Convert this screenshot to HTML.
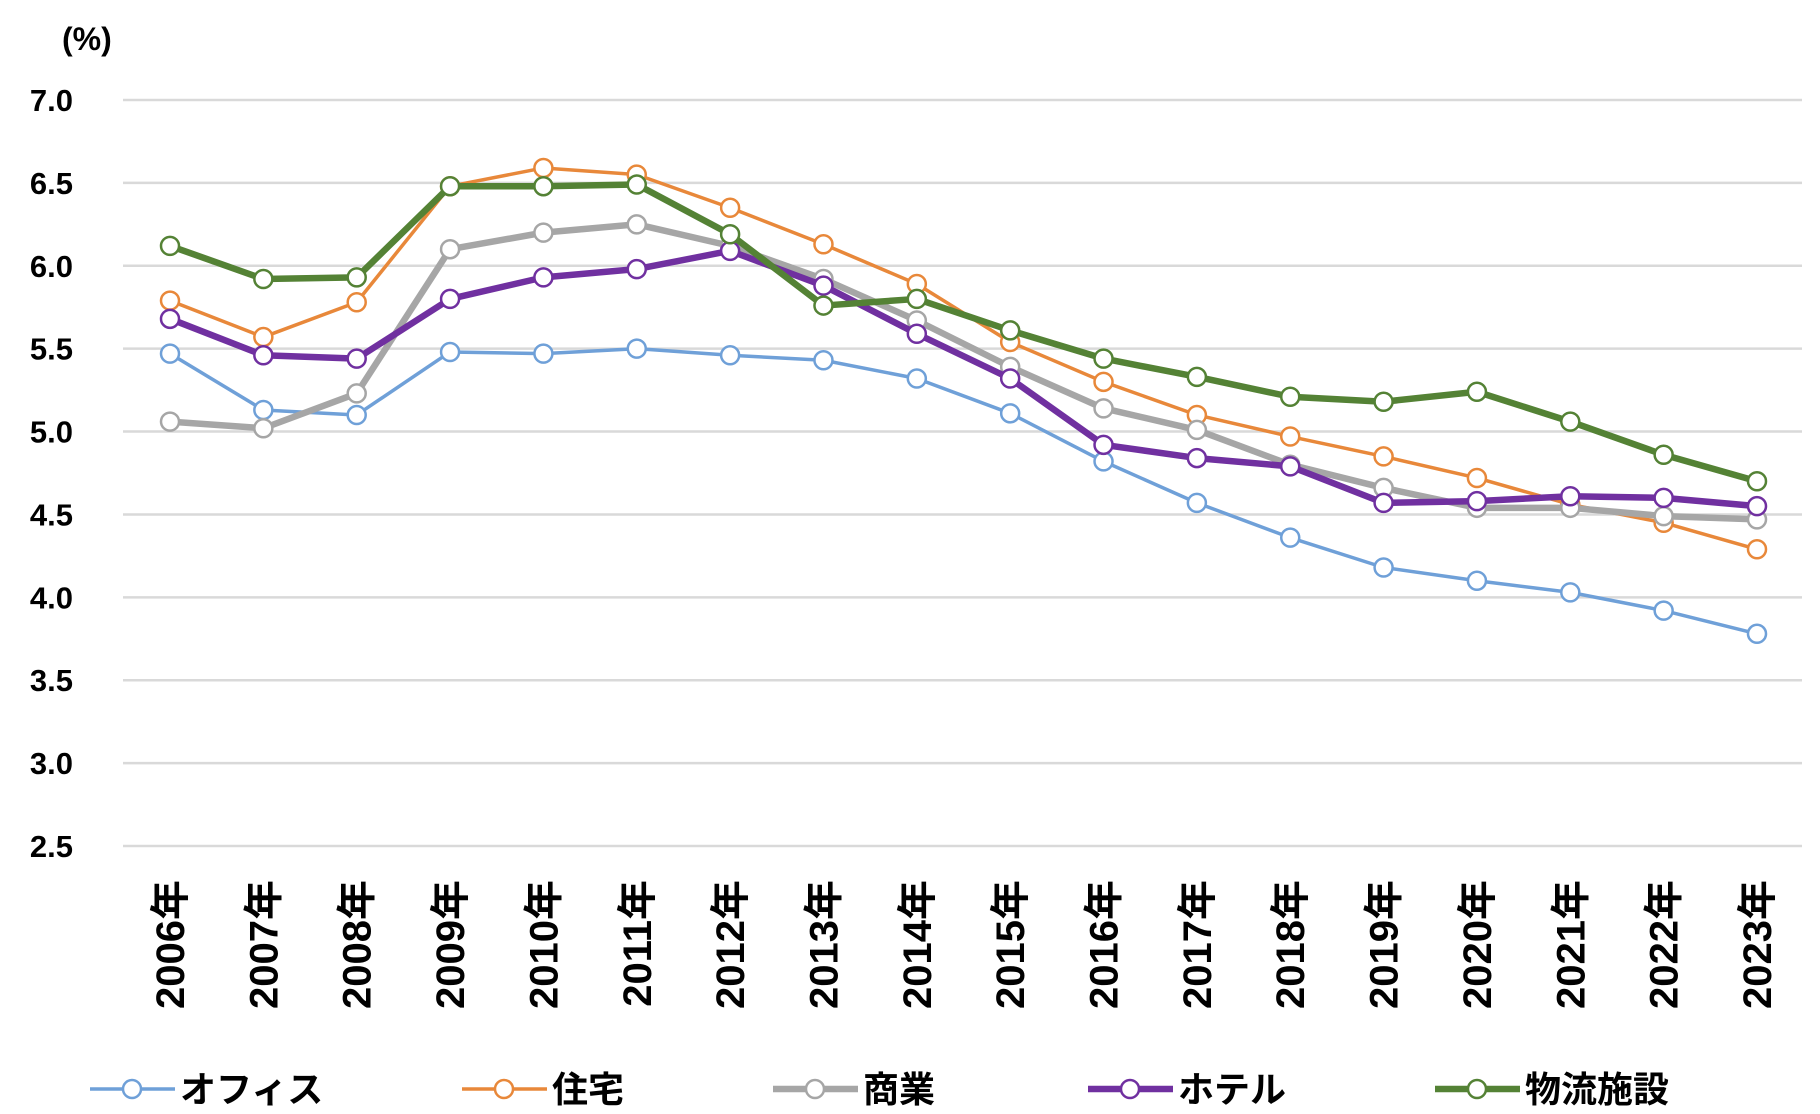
<!DOCTYPE html>
<html><head><meta charset="utf-8"><style>
body{margin:0;background:#fff;}
svg{display:block;font-family:"Liberation Sans","Noto Sans CJK JP",sans-serif;font-weight:bold;}
</style></head><body>
<svg id="chart" width="1820" height="1114" viewBox="0 0 1820 1114">
<text x="62" y="50" font-size="32" fill="#000">(%)</text>
<g id="grid"></g><g id="ylab"></g><g id="xlab"></g><g id="series"></g><g id="legend"></g>
</svg>
<script>
const years=["2006年","2007年","2008年","2009年","2010年","2011年","2012年","2013年","2014年","2015年","2016年","2017年","2018年","2019年","2020年","2021年","2022年","2023年"];
const yTicks=[2.5,3.0,3.5,4.0,4.5,5.0,5.5,6.0,6.5,7.0];
const office=[5.47,5.13,5.10,5.48,5.47,5.50,5.46,5.43,5.32,5.11,4.82,4.57,4.36,4.18,4.10,4.03,3.92,3.78];
const residential=[5.79,5.57,5.78,6.48,6.59,6.55,6.35,6.13,5.89,5.54,5.30,5.10,4.97,4.85,4.72,4.56,4.45,4.29];
const commercial=[5.06,5.02,5.23,6.10,6.20,6.25,6.12,5.92,5.67,5.39,5.14,5.01,4.80,4.66,4.54,4.54,4.49,4.47];
const hotel=[5.68,5.46,5.44,5.80,5.93,5.98,6.09,5.88,5.59,5.32,4.92,4.84,4.79,4.57,4.58,4.61,4.60,4.55];
const logistics=[6.12,5.92,5.93,6.48,6.48,6.49,6.19,5.76,5.80,5.61,5.44,5.33,5.21,5.18,5.24,5.06,4.86,4.70];
const seriesNames=["オフィス","住宅","商業","ホテル","物流施設"];
const NS="http://www.w3.org/2000/svg";
const X0=170,X1=1757,Y7=100,Y25=846;
const xs=i=>X0+(X1-X0)*i/(years.length-1);
const ys=v=>Y25-(v-2.5)*(Y25-Y7)/4.5;
function mk(tag,attrs,parent){const e=document.createElementNS(NS,tag);for(const k in attrs)e.setAttribute(k,attrs[k]);parent.appendChild(e);return e;}
const grid=document.getElementById('grid'),ylab=document.getElementById('ylab'),xlab=document.getElementById('xlab'),ser=document.getElementById('series'),leg=document.getElementById('legend');
yTicks.forEach(t=>{
 const l=mk('line',{x1:123,x2:1802,y1:ys(t),y2:ys(t),stroke:'#d9d9d9','stroke-width':2.5},grid);
 
 
 const tx=mk('text',{x:73,y:ys(t)+11,'font-size':31,'text-anchor':'end',fill:'#000'},ylab);
 tx.textContent=t.toFixed(1);
 
 
});
years.forEach((y,i)=>{
 const tx=mk('text',{transform:`translate(${xs(i)+14},880) rotate(-90)`,'font-size':40,'text-anchor':'end',fill:'#000'},xlab);
 tx.textContent=y;
 
 
});
const defs=[[office,'#6fa0d8',3.5],[residential,'#e8883a',3.5],[commercial,'#a6a6a6',6.5],[hotel,'#7030a0',6.5],[logistics,'#548235',6.5]];
defs.forEach(([d,c,w],si)=>{
 const g=mk('g',{},ser);
 
 
 const p=mk('polyline',{points:d.map((v,i)=>xs(i)+','+ys(v)).join(' '),fill:'none',stroke:c,'stroke-width':w,'stroke-linejoin':'round'},g);
 
 
 d.forEach((v,i)=>{
  const m=mk('circle',{cx:xs(i),cy:ys(v),r:9,fill:'#fff',stroke:c,'stroke-width':2.5},g);
  
  
 });
});
const legX=[90,462,773,1088,1435];
defs.forEach(([d,c,w],si)=>{
 const g=mk('g',{},leg);
 
 
 mk('line',{x1:legX[si],x2:legX[si]+85,y1:1089,y2:1089,stroke:c,'stroke-width':w},g);
 mk('circle',{cx:legX[si]+42,cy:1089,r:9,fill:'#fff',stroke:c,'stroke-width':2.5},g);
 const t=mk('text',{x:legX[si]+90,y:1102,'font-size':36,fill:'#000'},g);
 t.textContent=seriesNames[si];
});
</script>
</body></html>
